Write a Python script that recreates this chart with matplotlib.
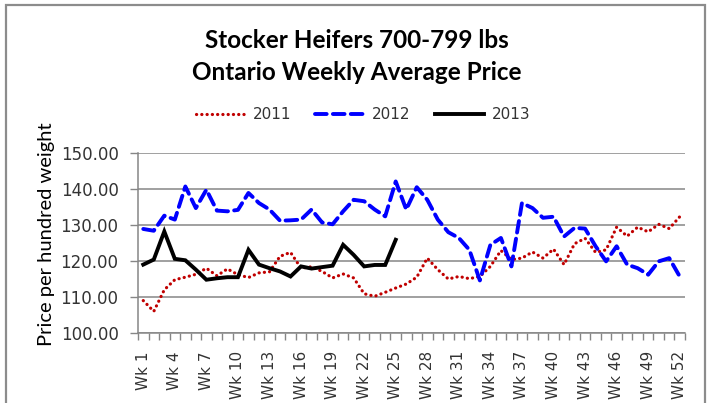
import numpy as np
import matplotlib.pyplot as plt
from matplotlib.patches import Rectangle
from matplotlib.ticker import MultipleLocator, FixedLocator

# Weekly average price, Ontario stocker heifers 700-799 lbs ($/cwt)
weeks = np.arange(1, 53)
week_labels = ["Wk %d" % w for w in range(1, 53, 3)]

price_2011 = [109.0, 106.0, 112.0, 114.8, 115.5, 116.3, 118.0, 115.9, 117.8, 116.2,
              115.4, 116.7, 117.0, 121.3, 122.4, 118.0, 118.4, 117.1, 115.3, 116.4,
              115.3, 110.9, 110.2, 111.3, 112.5, 113.6, 115.5, 120.8, 117.6, 115.0,
              115.7, 115.1, 115.7, 118.5, 122.9, 120.4, 120.8, 122.5, 120.8, 123.3,
              119.0, 124.8, 126.3, 122.4, 123.1, 129.4, 126.9, 129.4, 128.1, 130.2,
              129.0, 132.3]
price_2012 = [128.9, 128.4, 132.6, 131.5, 140.7, 134.7, 139.8, 134.0, 133.8, 134.2,
              138.9, 136.1, 134.3, 131.2, 131.3, 131.5, 134.3, 130.7, 130.2, 133.8,
              137.0, 136.6, 134.3, 132.4, 142.1, 134.3, 140.5, 137.0, 131.5, 128.0,
              126.4, 123.1, 114.6, 124.5, 126.4, 118.5, 136.1, 134.7, 132.0, 132.3,
              126.8, 129.2, 129.0, 124.1, 119.9, 124.1, 119.0, 118.0, 116.2, 119.9,
              120.8, 115.7]
price_2013 = [119.0, 120.4, 128.2, 120.6, 120.2, 117.6, 114.8, 115.2, 115.5, 115.5,
              123.1, 119.0, 118.0, 117.1, 115.7, 118.5, 117.9, 118.3, 118.7, 124.5,
              121.7, 118.5, 118.9, 118.9, 125.9]

W, H = 709, 403
fig = plt.figure(figsize=(W / 100, H / 100), dpi=100)
ax = fig.add_axes([138 / W, 1 - 333 / H, (685 - 138) / W, (333 - 153) / H])

# outer chart frame
fig.patches.append(Rectangle((5.5 / W, -0.05), 699 / W, 1.05 - 5 / H,
                             transform=fig.transFigure, fill=False,
                             edgecolor="#8c8c8c", lw=1.6))

ax.plot(weeks, price_2011, color="#c00000", lw=2.3, dashes=(0.05, 1.6),
        dash_capstyle="round", label="2011")
ax.plot(weeks, price_2012, color="#0000ff", lw=2.8, dashes=(3.0, 1.6),
        dash_capstyle="round", label="2012")
ax.plot(weeks[:len(price_2013)], price_2013, color="black", lw=2.8,
        solid_joinstyle="miter", label="2013")

ax.set_xlim(0.5, 52.5)
ax.set_ylim(100, 150)
ax.yaxis.set_major_locator(MultipleLocator(10))
ax.set_yticklabels(["%.2f" % v for v in ax.get_yticks()])
ax.grid(axis="y", color="#868686", lw=1.1)
ax.set_axisbelow(True)

ax.xaxis.set_major_locator(FixedLocator(list(range(1, 53, 3))))
ax.set_xticklabels(week_labels, rotation=90, va="top", ha="center")
ax.xaxis.set_minor_locator(FixedLocator(np.arange(0.5, 53, 1)))
ax.tick_params(axis="x", which="major", length=0, pad=13, labelsize=11,
               labelcolor="#333333")
ax.tick_params(axis="x", which="minor", length=5, color="#868686", width=1)
ax.tick_params(axis="y", length=6, color="#868686", width=1, labelsize=12,
               labelcolor="#333333", pad=8)

for s in ["top", "right"]:
    ax.spines[s].set_visible(False)
for s in ["left", "bottom"]:
    ax.spines[s].set_color("#868686")
    ax.spines[s].set_linewidth(1.1)

ax.set_ylabel("Price per hundred weight", family="Lato", fontsize=14.5,
              labelpad=5, color="black")
ax.yaxis.set_label_coords(-0.152, 0.55)

fig.text(357 / W, 1 - 40 / H, "Stocker Heifers 700-799 lbs", family="Lato",
         weight="bold", fontsize=17.5, ha="center", va="center")
fig.text(357 / W, 1 - 72 / H, "Ontario Weekly Average Price", family="Lato",
         weight="bold", fontsize=17.5, ha="center", va="center")

fig.legend(loc="center", bbox_to_anchor=(363 / W, 1 - 115 / H), ncol=3,
           frameon=False, fontsize=11, handlelength=3.2, columnspacing=1.6,
           handletextpad=0.5, labelcolor="#333333")

fig.savefig("out.png", dpi=100)
